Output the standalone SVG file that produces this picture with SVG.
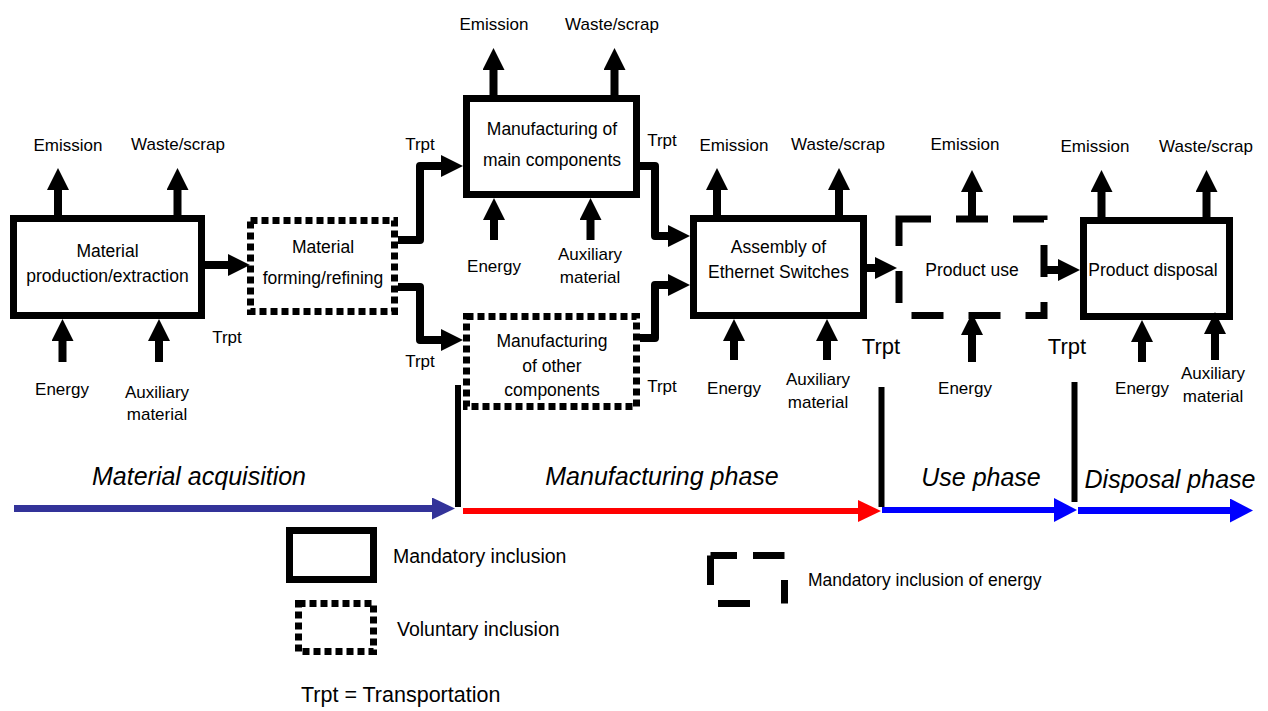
<svg xmlns="http://www.w3.org/2000/svg" width="1268" height="711" viewBox="0 0 1268 711">
<style>
text{font-family:"Liberation Sans",Arial,sans-serif;fill:#000;text-anchor:middle}
.l{font-size:17px}
.n{font-size:17.5px}
.b{font-size:22px}
.ph{font-size:25px;font-style:italic}
.lg{font-size:19.5px;text-anchor:start}
.solid{fill:#fff;stroke:#000;stroke-width:7}
.dot{fill:#fff;stroke:#000;stroke-width:7;stroke-dasharray:7 4}
.dash{fill:#fff;stroke:#000;stroke-width:7;stroke-dasharray:32 25}
.c{fill:none;stroke:#000;stroke-width:8;stroke-linejoin:round;marker-end:url(#ah)}
.div{stroke:#000;stroke-width:6}
</style>
<defs>
<marker id="ah" viewBox="0 0 22 22" markerWidth="22" markerHeight="22" refX="0" refY="11" orient="auto" markerUnits="userSpaceOnUse"><path d="M0,0 L22,11 L0,22 Z" fill="#000"/></marker>
<marker id="an" viewBox="0 0 23 22" markerWidth="23" markerHeight="22" refX="0" refY="11" orient="auto" markerUnits="userSpaceOnUse"><path d="M0,0 L23,11 L0,22 Z" fill="#333399"/></marker>
<marker id="ar" viewBox="0 0 23 22" markerWidth="23" markerHeight="22" refX="0" refY="11" orient="auto" markerUnits="userSpaceOnUse"><path d="M0,0 L23,11 L0,22 Z" fill="#ff0000"/></marker>
<marker id="ab" viewBox="0 0 23 24" markerWidth="23" markerHeight="24" refX="0" refY="12" orient="auto" markerUnits="userSpaceOnUse"><path d="M0,0 L23,12 L0,24 Z" fill="#0000ff"/></marker>
</defs>
<rect width="1268" height="711" fill="#fff"/>

<g id="node-material-production">
<rect class="solid" x="13.5" y="218.5" width="188" height="97"/>
<text class="n" x="107.5" y="257">Material</text>
<text class="n" x="107.5" y="282">production/extraction</text>
</g>
<g id="node-material-forming">
<rect class="dot" x="250.5" y="220.5" width="144" height="91"/>
<text class="n" x="323" y="253">Material</text>
<text class="n" x="323" y="284">forming/refining</text>
</g>
<g id="node-main-components">
<rect class="solid" x="466.5" y="98.5" width="170" height="96"/>
<text class="n" x="552" y="135">Manufacturing of</text>
<text class="n" x="552" y="166">main components</text>
</g>
<g id="node-other-components">
<rect class="dot" x="466.5" y="316.5" width="170" height="90"/>
<text class="n" x="552" y="347">Manufacturing</text>
<text class="n" x="552" y="372">of other</text>
<text class="n" x="552" y="396">components</text>
</g>
<g id="node-assembly">
<rect class="solid" x="693.5" y="218.5" width="170" height="97"/>
<text class="n" x="778.5" y="253">Assembly of</text>
<text class="n" x="778.5" y="278">Ethernet Switches</text>
</g>
<g id="node-product-use">
<rect class="dash" x="899" y="219" width="145" height="96.5"/>
<text class="n" x="972" y="276">Product use</text>
</g>
<g id="node-product-disposal">
<rect class="solid" x="1083.5" y="220.5" width="146" height="96"/>
<text class="n" x="1153" y="276">Product disposal</text>
</g>

<g id="connectors">
<path class="c" d="M58 215 V190"/>
<path class="c" d="M177.5 215 V190"/>
<path class="c" d="M62.5 362 V341"/>
<path class="c" d="M159 362 V341"/>
<path class="c" d="M205 265 H228"/>
<path class="c" d="M398 240 H420 V166 H441"/>
<path class="c" d="M398 287 H420 V340 H441"/>
<path class="c" d="M493.5 95 V70"/>
<path class="c" d="M614.5 95 V70"/>
<path class="c" d="M494 240 V220"/>
<path class="c" d="M590.5 240 V220"/>
<path class="c" d="M640 166 H655 V236 H668"/>
<path class="c" d="M640 338 H655 V285 H668"/>
<path class="c" d="M717 215 V190"/>
<path class="c" d="M839 215 V190"/>
<path class="c" d="M734 360 V341"/>
<path class="c" d="M827 360 V341"/>
<path class="c" d="M863 268 H875"/>
<path class="c" d="M972 222 V192"/>
<path class="c" d="M972 362 V335"/>
<path class="c" d="M1045 270 H1058"/>
<path class="c" d="M1101.5 217 V192"/>
<path class="c" d="M1206.5 217 V192"/>
<path class="c" d="M1142 362 V342"/>
<path class="c" d="M1215 360 V334"/>
</g>

<g id="flow-labels">
<text class="l" x="68" y="151">Emission</text>
<text class="l" x="178" y="150">Waste/scrap</text>
<text class="l" x="62" y="395">Energy</text>
<text class="l" x="157" y="398">Auxiliary</text>
<text class="l" x="157" y="420">material</text>
<text class="l" x="227" y="343">Trpt</text>
<text class="l" x="420" y="150">Trpt</text>
<text class="l" x="420" y="367">Trpt</text>
<text class="l" x="494" y="30">Emission</text>
<text class="l" x="612" y="30">Waste/scrap</text>
<text class="l" x="494" y="272">Energy</text>
<text class="l" x="590" y="260">Auxiliary</text>
<text class="l" x="590" y="283">material</text>
<text class="l" x="662" y="146">Trpt</text>
<text class="l" x="662" y="392">Trpt</text>
<text class="l" x="734" y="151">Emission</text>
<text class="l" x="838" y="150">Waste/scrap</text>
<text class="l" x="734" y="394">Energy</text>
<text class="l" x="818" y="385">Auxiliary</text>
<text class="l" x="818" y="408">material</text>
<text class="b" x="881" y="354">Trpt</text>
<text class="l" x="965" y="150">Emission</text>
<text class="l" x="965" y="394">Energy</text>
<text class="b" x="1067" y="354">Trpt</text>
<text class="l" x="1095" y="152">Emission</text>
<text class="l" x="1206" y="152">Waste/scrap</text>
<text class="l" x="1142" y="394">Energy</text>
<text class="l" x="1213" y="379">Auxiliary</text>
<text class="l" x="1213" y="402">material</text>
</g>

<g id="phases">
<line class="div" x1="458" y1="385" x2="458" y2="507"/>
<line class="div" x1="881.5" y1="387" x2="881.5" y2="507"/>
<line class="div" x1="1074.5" y1="382" x2="1074.5" y2="502"/>
<path d="M14 508.5 H432" stroke="#333399" stroke-width="7" marker-end="url(#an)"/>
<path d="M463 511 H858" stroke="#ff0000" stroke-width="6" marker-end="url(#ar)"/>
<path d="M882 510 H1054" stroke="#0000ff" stroke-width="6" marker-end="url(#ab)"/>
<path d="M1078 510.5 H1230" stroke="#0000ff" stroke-width="7" marker-end="url(#ab)"/>
<text class="ph" x="199" y="485">Material acquisition</text>
<text class="ph" x="662" y="485">Manufacturing phase</text>
<text class="ph" x="981" y="486">Use phase</text>
<text class="ph" x="1170" y="488">Disposal phase</text>
</g>

<g id="legend">
<rect class="solid" x="289.5" y="530.5" width="84" height="49"/>
<text class="lg" x="393" y="563">Mandatory inclusion</text>
<rect class="dot" x="298.5" y="603.5" width="75" height="48"/>
<text class="lg" x="397" y="636">Voluntary inclusion</text>
<rect x="710.5" y="555.5" width="74" height="48" fill="none" stroke="#000" stroke-width="7" stroke-dasharray="26.5 16 31.5 24.5 23.5 34.5 32 26 29.5 0"/>
<text class="lg" x="808" y="586" style="font-size:17.5px">Mandatory inclusion of energy</text>
<text class="lg" x="301" y="702" style="font-size:21.5px">Trpt = Transportation</text>
</g>
</svg>
